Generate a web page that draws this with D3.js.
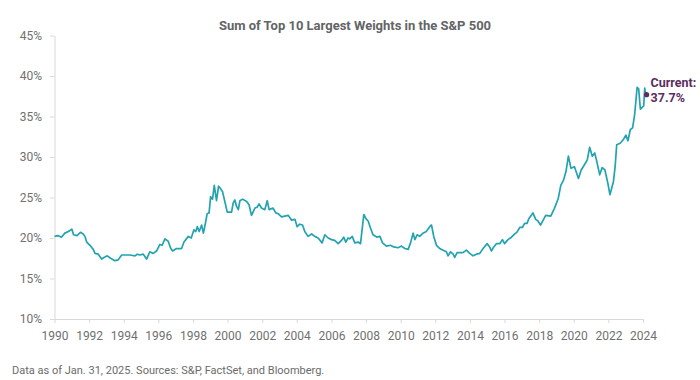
<!DOCTYPE html>
<html>
<head>
<meta charset="utf-8">
<script src="https://cdn.jsdelivr.net/npm/d3@7"></script>
<style>
  html, body { margin: 0; padding: 0; background: #ffffff; }
  svg { display: block; }
</style>
</head>
<body>
<svg id="chart" width="700" height="380"></svg>
<script>
// ---- Data ----
const titleText = "Sum of Top 10 Largest Weights in the S&P 500";
const footnoteText = "Data as of Jan. 31, 2025. Sources: S&P, FactSet, and Bloomberg.";
const currentLabel = ["Current:", "37.7%"];

const yTicks = [10, 15, 20, 25, 30, 35, 40, 45];
const xTicks = [1990, 1992, 1994, 1996, 1998, 2000, 2002, 2004, 2006, 2008, 2010,
                2012, 2014, 2016, 2018, 2020, 2022, 2024];

// decimal year of each observation
const dates = [
  1990.00, 1990.20, 1990.40, 1990.60, 1990.80, 1991.00, 1991.10, 1991.30, 1991.50, 1991.66,
  1991.76, 1991.86, 1992.05, 1992.24, 1992.34, 1992.53, 1992.72, 1992.86, 1993.05, 1993.24,
  1993.49, 1993.68, 1993.88, 1994.36, 1994.65, 1994.78, 1994.94, 1995.13, 1995.32, 1995.51,
  1995.70, 1995.90, 1996.09, 1996.22, 1996.38, 1996.57, 1996.70, 1996.82, 1997.05, 1997.34,
  1997.48, 1997.73, 1997.90, 1998.05, 1998.16, 1998.25, 1998.36, 1998.50, 1998.60, 1998.70,
  1998.82, 1998.93, 1999.02, 1999.13, 1999.23, 1999.36, 1999.48, 1999.59, 1999.71, 1999.84,
  1999.98, 2000.23, 2000.32, 2000.42, 2000.52, 2000.62, 2000.71, 2000.87, 2001.10, 2001.24,
  2001.38, 2001.58, 2001.70, 2001.82, 2001.96, 2002.15, 2002.29, 2002.40, 2002.63, 2002.78,
  2002.92, 2003.12, 2003.31, 2003.50, 2003.70, 2003.89, 2004.02, 2004.17, 2004.33, 2004.46,
  2004.65, 2004.85, 2005.04, 2005.23, 2005.46, 2005.62, 2005.81, 2006.00, 2006.19, 2006.39,
  2006.58, 2006.71, 2006.83, 2006.96, 2007.06, 2007.20, 2007.35, 2007.54, 2007.68, 2007.87,
  2007.99, 2008.12, 2008.26, 2008.40, 2008.64, 2008.80, 2008.95, 2009.18, 2009.41, 2009.60,
  2009.85, 2010.05, 2010.24, 2010.43, 2010.57, 2010.72, 2010.82, 2010.95, 2011.10, 2011.29,
  2011.48, 2011.72, 2011.78, 2011.91, 2012.07, 2012.26, 2012.45, 2012.64, 2012.74, 2012.88,
  2013.03, 2013.12, 2013.26, 2013.41, 2013.60, 2013.80, 2013.99, 2014.18, 2014.38, 2014.57,
  2014.76, 2015.00, 2015.14, 2015.24, 2015.38, 2015.53, 2015.72, 2015.88, 2016.00, 2016.20,
  2016.40, 2016.59, 2016.71, 2016.88, 2017.03, 2017.16, 2017.30, 2017.41, 2017.55, 2017.64,
  2017.80, 2017.93, 2018.08, 2018.38, 2018.67, 2018.87, 2019.10, 2019.25, 2019.41, 2019.55,
  2019.69, 2019.84, 2020.04, 2020.27, 2020.43, 2020.66, 2020.78, 2020.92, 2021.07, 2021.21,
  2021.31, 2021.50, 2021.64, 2021.80, 2021.95, 2022.09, 2022.29, 2022.39, 2022.48, 2022.68,
  2022.88, 2023.01, 2023.13, 2023.27, 2023.40, 2023.52, 2023.66, 2023.75, 2023.85, 2024.04,
  2024.10, 2024.15
];

// sum of top-10 weights, percent
const weights = [
  20.2, 20.3, 20.1, 20.6, 20.8, 21.1, 20.4, 20.3, 20.7, 20.5,
  20.2, 19.5, 19.1, 18.6, 18.1, 18.0, 17.4, 17.6, 17.8, 17.5,
  17.2, 17.3, 17.9, 17.9, 17.8, 18.0, 17.9, 18.0, 17.4, 18.3,
  18.1, 18.4, 19.2, 19.1, 19.9, 19.6, 18.8, 18.4, 18.7, 18.7,
  19.5, 20.2, 20.0, 21.0, 20.8, 21.4, 20.8, 21.6, 20.6, 21.6,
  23.0, 23.1, 25.1, 24.8, 26.5, 24.6, 26.4, 26.1, 25.7, 24.5,
  23.2, 23.2, 24.3, 24.7, 23.9, 23.5, 24.6, 24.8, 24.5, 24.1,
  22.8, 23.7, 23.8, 24.2, 23.7, 23.5, 24.6, 23.5, 23.7, 23.1,
  23.0, 22.6, 22.7, 22.8, 22.2, 22.3, 21.4, 21.7, 21.6, 20.8,
  20.2, 20.5, 20.2, 20.0, 19.4, 20.4, 20.0, 19.8, 19.7, 19.3,
  19.7, 20.1, 19.5, 20.0, 19.9, 20.2, 19.4, 19.5, 19.3, 22.9,
  22.4, 22.1, 21.2, 20.4, 20.1, 20.2, 19.4, 19.0, 19.1, 18.9,
  18.8, 19.0, 18.7, 18.6, 19.4, 20.6, 19.8, 20.4, 20.2, 20.6,
  20.8, 21.5, 21.6, 20.2, 19.1, 18.7, 18.5, 18.3, 17.8, 18.3,
  18.0, 17.6, 18.2, 18.2, 18.2, 18.5, 18.1, 17.8, 18.0, 18.1,
  18.7, 19.3, 18.9, 18.4, 18.9, 19.3, 19.3, 19.8, 19.3, 19.8,
  20.1, 20.5, 20.7, 21.3, 21.3, 21.8, 21.8, 22.4, 22.8, 23.1,
  22.3, 22.1, 21.6, 22.8, 22.7, 23.6, 24.85, 26.5, 27.15, 28.2,
  30.1, 28.6, 28.8, 27.35, 28.4, 29.2, 29.65, 31.2, 30.1, 30.5,
  29.65, 27.8, 28.7, 28.4, 26.95, 25.35, 26.95, 28.8, 31.5, 31.7,
  32.2, 32.7, 32.0, 33.4, 33.6, 35.3, 38.6, 38.4, 35.9, 36.3,
  38.5, 37.7
];

// ---- Drawing ----
const svg = d3.select("#chart");
const axisColor = "#d9d9d9";
const textColor = "#707070";
const lineColor = "#22a3af";
const accent = "#5b2c5e";
const font = "Roboto, 'Open Sans', sans-serif";

const x = d3.scaleLinear().domain([1990, 2024]).range([54.5, 643]);
const y = d3.scaleLinear().domain([10, 45]).range([319, 35.5]);

// title
svg.append("text")
  .attr("x", 355).attr("y", 30)
  .attr("text-anchor", "middle")
  .attr("font-family", font).attr("font-weight", 700)
  .attr("font-size", 13).attr("fill", "#626466")
  .text(titleText);

// y axis
const yAxis = svg.append("g")
  .attr("transform", `translate(${x(1990)},0)`)
  .call(d3.axisLeft(y).tickValues(yTicks).tickFormat(d => d + "%")
        .tickSize(4.5).tickSizeOuter(0).tickPadding(8));
// x axis
const xAxis = svg.append("g")
  .attr("transform", `translate(0,${y(10)})`)
  .call(d3.axisBottom(x).tickValues(xTicks).tickFormat(d3.format("d"))
        .tickSize(4).tickSizeOuter(0).tickPadding(8.5));

[yAxis, xAxis].forEach(g => {
  g.selectAll(".domain").attr("stroke", axisColor).attr("stroke-width", 1);
  g.selectAll(".tick line").attr("stroke", axisColor).attr("stroke-width", 1);
  g.selectAll(".tick text").attr("fill", textColor)
    .attr("font-family", font).attr("font-size", 12);
});

// line
const series = dates.map((d, i) => ({ t: d, v: weights[i] }));
svg.append("path")
  .datum(series)
  .attr("fill", "none")
  .attr("stroke", lineColor)
  .attr("stroke-width", 1.7)
  .attr("stroke-linejoin", "round")
  .attr("d", d3.line().x(d => x(d.t)).y(d => y(d.v)));

// current marker + label
const last = series[series.length - 1];
svg.append("circle")
  .attr("cx", x(last.t) + 1).attr("cy", y(last.v))
  .attr("r", 2.6).attr("fill", accent);
const lab = svg.append("text")
  .attr("font-family", font).attr("font-weight", 700)
  .attr("font-size", 12.5).attr("fill", accent);
lab.append("tspan").attr("x", x(last.t) + 5).attr("y", y(last.v) - 8).text(currentLabel[0]);
lab.append("tspan").attr("x", x(last.t) + 5).attr("y", y(last.v) + 7).text(currentLabel[1]);

// footnote
svg.append("text")
  .attr("x", 12).attr("y", 374)
  .attr("font-family", font).attr("font-size", 11)
  .attr("fill", "#6b6b6b")
  .text(footnoteText);
</script>
</body>
</html>
